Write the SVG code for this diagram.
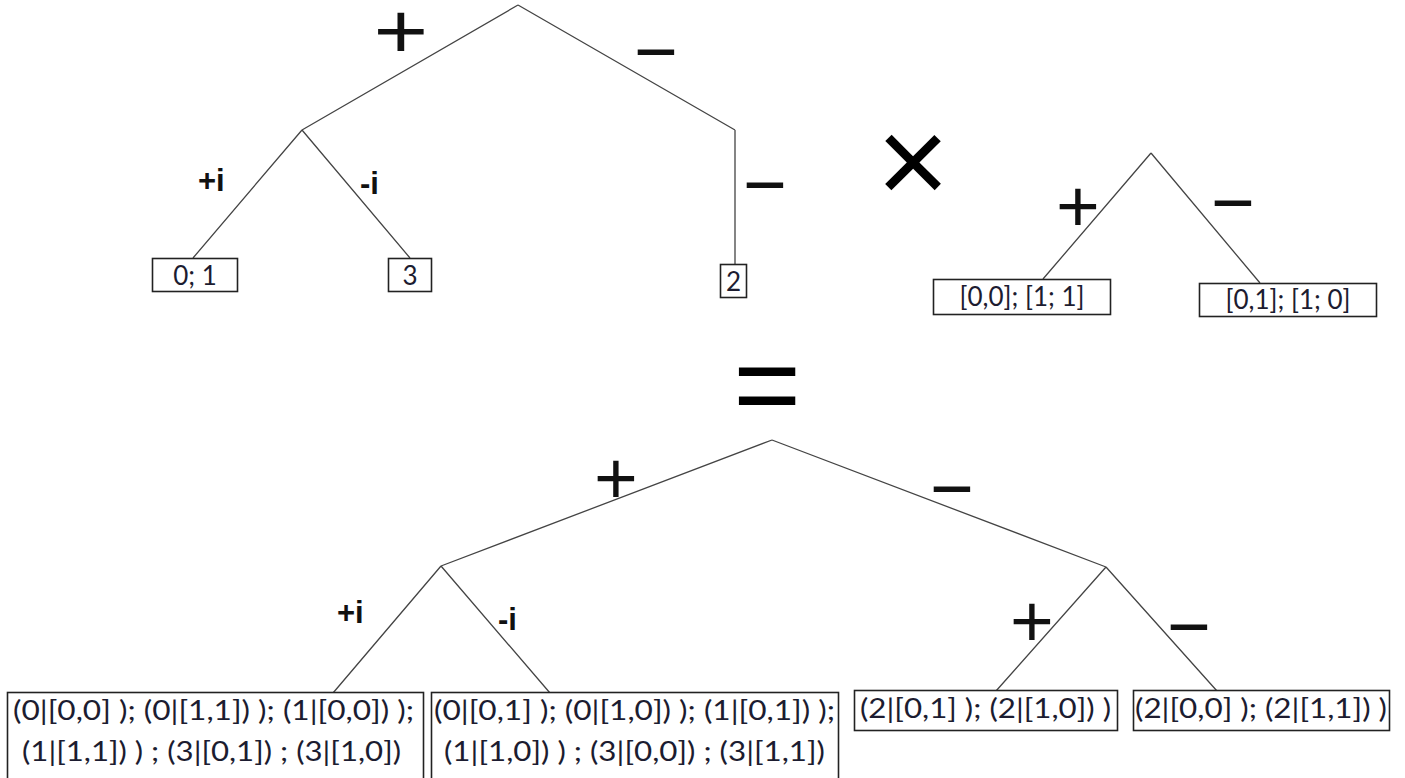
<svg xmlns="http://www.w3.org/2000/svg" width="1405" height="778" viewBox="0 0 1405 778">
<style>
.bg{fill:#fff}
.edge{stroke:#444;stroke-width:1.3;fill:none}
.box{fill:#fff;stroke:#222;stroke-width:1.6}
.t{font-family:Lato,"Liberation Sans",sans-serif;font-size:26px;fill:#1c1c30}
.lb{font-family:"Liberation Sans",Arial,sans-serif;font-weight:bold;font-size:31px;fill:#111}
.op{font-family:"Liberation Sans",Arial,sans-serif;font-size:75px;fill:#111;text-anchor:middle}
.big{font-family:"Liberation Sans",Arial,sans-serif;fill:#000;text-anchor:middle}
</style>
<rect class="bg" x="0" y="0" width="1405" height="778"/>
<g id="connectors">
<path class="edge" d="M518 5 L302 130 M518 5 L735 130 M302 130 L193 258 M302 130 L410 258 M735 130 L735 264"/>
<path class="edge" d="M1151 153 L1043 279 M1151 153 L1260 283"/>
<path class="edge" d="M772 440 L441 566 M772 440 L1106 567 M441 566 L333 693 M441 566 L550 693 M1106 567 L996 691 M1106 567 L1217 691"/>
</g>
<g id="edge-labels">
<text class="op" transform="translate(401 58) scale(1.25 1.05)" font-size="60">+</text>
<text class="op" x="656" y="77">−</text>
<text class="lb" x="198" y="191">+i</text>
<text class="lb" x="360" y="194">-i</text>
<text class="op" x="765" y="210">−</text>
<text class="op" x="1078" y="232">+</text>
<text class="op" x="1233" y="228">−</text>
<text class="op" x="616" y="504">+</text>
<text class="op" x="952" y="514">−</text>
<text class="lb" x="337" y="623">+i</text>
<text class="lb" x="498" y="630">-i</text>
<text class="op" x="1032" y="647">+</text>
<text class="op" x="1189" y="652">−</text>
</g>
<g id="times"><text class="big" x="913" y="204" font-size="125">×</text></g>
<g id="equals"><text class="big" x="767" y="425" font-size="116">=</text></g>
<g id="leaf-01">
<rect class="box" x="152.5" y="258.5" width="85" height="33"/>
<text class="t" x="195" y="285" text-anchor="middle">0; 1</text>
</g>
<g id="leaf-3">
<rect class="box" x="388.5" y="258.5" width="43" height="33"/>
<text class="t" x="410" y="285" text-anchor="middle">3</text>
</g>
<g id="leaf-2">
<rect class="box" x="720.5" y="264.5" width="26" height="33"/>
<text class="t" x="733.5" y="291" text-anchor="middle">2</text>
</g>
<g id="small-left">
<rect class="box" x="933.5" y="279.5" width="177" height="35"/>
<text class="t" x="1022" y="306" text-anchor="middle">[0,0]; [1; 1]</text>
</g>
<g id="small-right">
<rect class="box" x="1199.5" y="283.5" width="177" height="33"/>
<text class="t" x="1288" y="309" text-anchor="middle">[0,1]; [1; 0]</text>
</g>
<g id="result-1">
<rect class="box" x="7.5" y="692.5" width="416" height="88"/>
<text class="t" x="13" y="720" textLength="401" lengthAdjust="spacingAndGlyphs">(0|[0,0] ); (0|[1,1]) ); (1|[0,0]) );</text>
<text class="t" x="22" y="761" textLength="379" lengthAdjust="spacingAndGlyphs">(1|[1,1]) ) ; (3|[0,1]) ; (3|[1,0])</text>
</g>
<g id="result-2">
<rect class="box" x="431.5" y="692.5" width="407" height="88"/>
<text class="t" x="434" y="720" textLength="401" lengthAdjust="spacingAndGlyphs">(0|[0,1] ); (0|[1,0]) ); (1|[0,1]) );</text>
<text class="t" x="444" y="761" textLength="381" lengthAdjust="spacingAndGlyphs">(1|[1,0]) ) ; (3|[0,0]) ; (3|[1,1])</text>
</g>
<g id="result-3">
<rect class="box" x="854.5" y="690.5" width="263" height="40"/>
<text class="t" x="860" y="718" textLength="251" lengthAdjust="spacingAndGlyphs">(2|[0,1] ); (2|[1,0]) )</text>
</g>
<g id="result-4">
<rect class="box" x="1133.5" y="690.5" width="256" height="40"/>
<text class="t" x="1135" y="718" textLength="252" lengthAdjust="spacingAndGlyphs">(2|[0,0] ); (2|[1,1]) )</text>
</g>
</svg>
